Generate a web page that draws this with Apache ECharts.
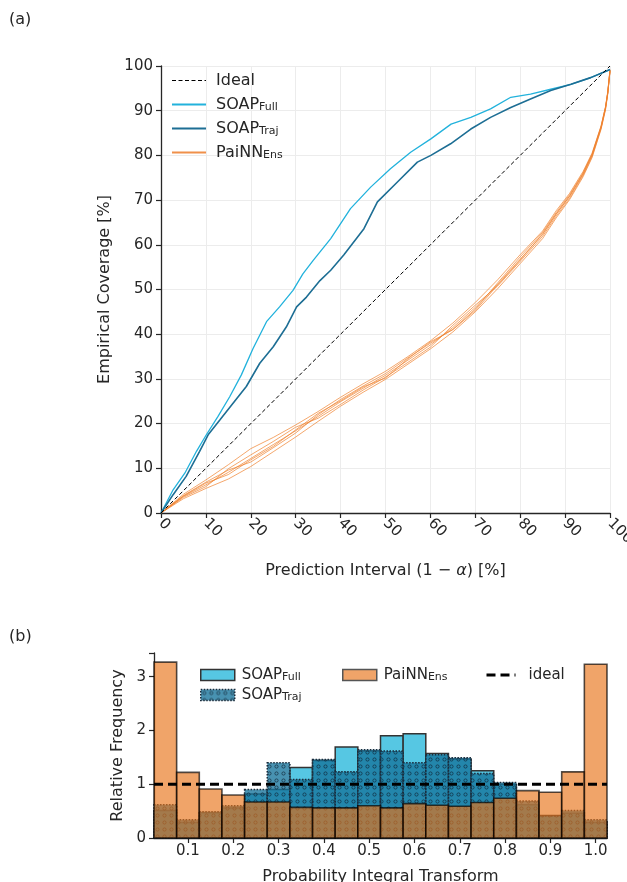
<!DOCTYPE html>
<html><head><meta charset="utf-8">
<script src="https://cdn.jsdelivr.net/npm/echarts@6/dist/echarts.min.js"></script>
<style>html,body{margin:0;padding:0;background:#fff}#c{width:627px;height:882px}</style>
</head><body><div id="c"></div>
<script>
// ---------- (a) calibration curves ----------
const FULL_X = [0,2.7,5.3,7.9,10.1,12.7,15.3,17.9,20.5,23.5,26.4,29.4,31.6,33.9,37.8,42.2,46.7,51.1,55.6,60.1,64.6,69.0,73.4,77.9,82.3,86.8,91.3,95.7,100];
const FULL_Y = [0,5.2,8.9,13.8,17.5,21.6,26.0,30.9,36.8,42.8,46.1,49.8,53.5,56.5,61.4,68.1,72.9,77.0,80.7,83.7,87.0,88.5,90.4,93.0,93.7,94.8,95.9,97.4,99.2];
const TRAJ_X = [0,2.7,5.6,8.6,10.5,13.1,16.0,19.0,22.0,25.0,27.9,30.2,32.4,35.4,37.8,40.7,45.2,48.2,52.6,57.1,60.1,64.5,69.0,73.4,77.9,82.3,86.8,91.3,95.7,100];
const TRAJ_Y = [0,4.1,8.2,13.8,17.5,20.8,24.5,28.3,33.5,37.2,41.6,46.1,48.3,52.0,54.3,57.7,63.6,69.6,74.0,78.5,80.0,82.6,85.9,88.5,90.7,92.6,94.5,95.9,97.4,99.2];
const PAINN_X = [0,5,10,15,20,25,30,35,40,45,50,55,60,65,70,75,80,85,88,91,94,96,98,99,99.5,100];
const PAINN_M1 = [0,3.7,6.3,9.1,12.2,15.3,18.4,21.6,24.9,27.9,30.8,34.2,37.6,41.5,46.0,51.2,56.8,62.3,66.8,70.8,75.8,80.0,86.2,90.6,94.0,99.0];
const PAINN_M2 = [0,4.2,7.4,10.8,14.4,16.9,19.7,22.7,25.9,28.9,31.7,35.0,38.5,42.5,47.1,52.2,57.8,63.1,67.6,71.5,76.4,80.5,86.6,90.9,94.3,99.2];
const PAINN_M3 = [0,3.2,5.5,7.6,10.4,13.7,17.0,20.5,23.9,27.0,29.9,33.3,36.7,40.5,45.0,50.2,55.8,61.4,66.0,70.1,75.2,79.5,85.8,90.2,93.7,98.8];
const PAINN_M4 = [0,3.9,6.9,9.6,11.4,14.6,17.9,22.0,25.4,28.4,31.2,34.7,38.0,41.1,45.6,51.5,57.3,62.8,67.2,71.2,76.1,80.3,86.4,90.8,94.1,99.1];
const PAINN_M5 = [0,3.5,5.9,9.9,13.0,16.0,19.2,21.2,24.3,27.5,30.4,33.7,37.1,42.0,46.5,50.8,56.3,61.9,66.4,70.4,75.5,79.7,86.0,90.4,93.9,98.9];
const PAINN_M6 = [0,3.8,6.7,8.6,11.9,14.9,18.6,22.3,25.1,28.2,30.2,34.5,38.3,41.0,45.3,51.0,56.6,62.5,66.9,70.9,75.9,80.1,86.3,90.7,94.0,99.0];
const IDEAL_X = [0,100];
const IDEAL_Y = [0,100];

// ---------- (b) PIT histogram ----------
const PIT_CENTERS = [0.05,0.10,0.15,0.20,0.25,0.30,0.35,0.40,0.45,0.50,0.55,0.60,0.65,0.70,0.75,0.80,0.85,0.90,0.95,1.00];
const BIN_W = 0.05;
const PIT_FULL  = [0.51,0.29,0.47,0.56,0.82,0.90,1.31,1.44,1.69,1.62,1.90,1.94,1.57,1.47,1.25,1.00,0.62,0.42,0.46,0.29];
const PIT_TRAJ  = [0.62,0.34,0.49,0.60,0.90,1.40,1.09,1.46,1.23,1.64,1.62,1.40,1.55,1.49,1.20,1.03,0.69,0.41,0.51,0.34];
const PIT_PAINN = [3.27,1.22,0.91,0.80,0.67,0.67,0.57,0.56,0.56,0.60,0.56,0.64,0.61,0.59,0.66,0.74,0.88,0.85,1.23,3.23];
const PIT_IDEAL = 1;
const PIT_TICKS = [0.1,0.2,0.3,0.4,0.5,0.6,0.7,0.8,0.9,1.0];

const FONT = 'DejaVu Sans';
const INK = '#262626';
const zip = (xs, ys) => xs.map((x, i) => [x, ys[i]]);

// hatch pattern ('o') for SOAP_Traj
function makeHatch() {
  const cv = document.createElement('canvas');
  cv.width = 7; cv.height = 7;
  const g = cv.getContext('2d');
  g.fillStyle = 'rgba(20,115,155,0.78)';
  g.fillRect(0, 0, 7, 7);
  g.strokeStyle = 'rgba(15,35,50,0.8)';
  g.lineWidth = 0.8;
  g.beginPath(); g.arc(3.5, 3.5, 1.6, 0, Math.PI * 2); g.stroke();
  return cv;
}
const HATCH = makeHatch();
const hatchFill = { image: HATCH, repeat: 'repeat' };

const LABELS = {
  'SOAP_Full': '{m|SOAP}{s|Full}', 'SOAP_Traj': '{m|SOAP}{s|Traj}', 'PaiNN_Ens': '{m|PaiNN}{s|Ens}', 'Ideal': '{m|Ideal}{s| }',
  'h_full': '{m|SOAP}{s|Full}', 'h_traj': '{m|SOAP}{s|Traj}', 'h_painn': '{m|PaiNN}{s|Ens}', 'h_ideal': '{m|ideal}{s| }'
};
function richFor(size, padL, lh, sub) {
  return {
    m: { fontSize: size, fontFamily: FONT, color: INK, padding: [0, 0, 0, padL], lineHeight: lh },
    s: { fontSize: Math.round(size * 0.7), fontFamily: FONT, color: INK, padding: [sub, 0, 0, 0], lineHeight: lh }
  };
}

function barSeries(name, values, style, z) {
  return {
    type: 'custom', name, xAxisIndex: 1, yAxisIndex: 1, z,
    data: PIT_CENTERS.map((c, i) => [c, values[i]]),
    encode: { x: 0, y: 1 },
    renderItem(params, api) {
      const c = api.value(0), h = api.value(1);
      const p0 = api.coord([c - BIN_W / 2, h]);
      const p1 = api.coord([c + BIN_W / 2, 0]);
      return {
        type: 'rect',
        shape: { x: p0[0], y: p0[1], width: p1[0] - p0[0], height: p1[1] - p0[1] },
        style: style
      };
    }
  };
}

const painnSeries = [PAINN_M1, PAINN_M2, PAINN_M3, PAINN_M4, PAINN_M5, PAINN_M6].map((ys) => ({
  type: 'line', name: 'PaiNN_Ens', xAxisIndex: 0, yAxisIndex: 0, data: zip(PAINN_X, ys),
  symbol: 'none', smooth: false, z: 3,
  lineStyle: { color: '#f0822e', width: 1, opacity: 0.7 }, itemStyle: { color: '#f0822e' }
}));

const axisCommon = {
  axisLine: { show: true, onZero: false, lineStyle: { color: INK, width: 1.3 } },
  axisTick: { show: true, length: 5, lineStyle: { color: INK, width: 1.2 } },
  axisLabel: { color: INK, fontSize: 15, fontFamily: FONT },
  nameTextStyle: { color: INK, fontSize: 16, fontFamily: FONT }
};
const hide = { opacity: 0 };

const option = {
  animation: false,
  backgroundColor: '#fff',
  title: [
    { text: '(a)', left: 4, top: 7, textStyle: { fontSize: 16, fontWeight: 'normal', fontFamily: FONT, color: INK } },
    { text: '(b)', left: 4, top: 624, textStyle: { fontSize: 16, fontWeight: 'normal', fontFamily: FONT, color: INK } }
  ],
  grid: [
    { left: 161, top: 66, width: 449, height: 447, outerBoundsMode: 'none', containLabel: false },
    { left: 154, top: 653, width: 453, height: 185, outerBoundsMode: 'none', containLabel: false }
  ],
  legend: [
    {
      orient: 'vertical', left: 166, top: 67, itemWidth: 34, itemHeight: 14, itemGap: 7,
      data: [
        { name: 'Ideal', itemStyle: hide, lineStyle: { color: '#000', width: 1.2, type: [4, 2.5] } },
        { name: 'SOAP_Full', itemStyle: hide, lineStyle: { width: 1.8, opacity: 1 } },
        { name: 'SOAP_Traj', itemStyle: hide, lineStyle: { width: 1.8, opacity: 1 } },
        { name: 'PaiNN_Ens', itemStyle: hide, lineStyle: { width: 2, opacity: 1, color: '#f0904a' } }
      ],
      formatter: n => LABELS[n],
      textStyle: { rich: richFor(16, 5, 18, 6) }
    },
    {
      orient: 'vertical', left: 195, top: 662, itemWidth: 34, itemHeight: 11, itemGap: 4,
      data: [
        { name: 'h_full', icon: 'rect', itemStyle: { color: '#56c7e3', borderColor: '#333', borderWidth: 1.5 } },
        { name: 'h_traj', icon: 'rect', itemStyle: { color: hatchFill, borderColor: '#1b2b3b', borderWidth: 1.5, borderType: [1.5, 1.5] } }
      ],
      formatter: n => LABELS[n],
      textStyle: { rich: richFor(15, 2, 16, 5) }
    },
    {
      orient: 'vertical', left: 337, top: 662, itemWidth: 34, itemHeight: 11,
      data: [{ name: 'h_painn', icon: 'rect', itemStyle: { color: 'rgb(240,164,105)', borderColor: '#555', borderWidth: 1.5 } }],
      formatter: n => LABELS[n],
      textStyle: { rich: richFor(15, 2, 16, 5) }
    },
    {
      orient: 'vertical', left: 480, top: 662, itemWidth: 29, itemHeight: 11,
      data: [{ name: 'h_ideal', itemStyle: hide, lineStyle: { color: '#000', width: 3, type: [9, 5] } }],
      formatter: n => LABELS[n],
      textStyle: { rich: richFor(15, 8, 16, 5) }
    }
  ],
  xAxis: [
    Object.assign({}, axisCommon, {
      type: 'value', gridIndex: 0, min: 0, max: 100, interval: 10,
      axisLabel: Object.assign({}, axisCommon.axisLabel, { rotate: -45, margin: 8 }),
      splitLine: { show: true, lineStyle: { color: '#ececec', width: 1 } },
      name: 'Prediction Interval (1 \u2212 {i|\u03b1}) [%]', nameLocation: 'middle', nameGap: 50,
      nameTextStyle: { color: INK, fontSize: 16, fontFamily: FONT, rich: { i: { fontStyle: 'italic', fontSize: 16, fontFamily: FONT, color: INK } } }
    }),
    Object.assign({}, axisCommon, {
      type: 'value', gridIndex: 1, min: 0.025, max: 1.025,
      axisTick: Object.assign({}, axisCommon.axisTick, { customValues: PIT_TICKS }),
      axisLabel: Object.assign({}, axisCommon.axisLabel, { customValues: PIT_TICKS, formatter: v => v.toFixed(1), margin: 6 }),
      splitLine: { show: false },
      name: 'Probability Integral Transform', nameLocation: 'middle', nameGap: 31
    })
  ],
  yAxis: [
    Object.assign({}, axisCommon, {
      type: 'value', gridIndex: 0, min: 0, max: 100, interval: 10,
      splitLine: { show: true, lineStyle: { color: '#ececec', width: 1 } },
      name: 'Empirical Coverage [%]', nameLocation: 'middle', nameGap: 48
    }),
    Object.assign({}, axisCommon, {
      type: 'value', gridIndex: 1, min: 0, max: 3.44, interval: 1,
      axisLabel: Object.assign({}, axisCommon.axisLabel, { formatter: v => (Number.isInteger(v) ? String(v) : '') }),
      splitLine: { show: false },
      name: 'Relative Frequency', nameLocation: 'middle', nameGap: 25
    })
  ],
  series: [
    { type: 'line', name: 'Ideal', xAxisIndex: 0, yAxisIndex: 0, data: zip(IDEAL_X, IDEAL_Y), symbol: 'none', z: 5,
      lineStyle: { color: '#000', width: 1, type: [4, 2.5] }, itemStyle: { color: '#000' } },
    ...painnSeries,
    { type: 'line', name: 'SOAP_Full', xAxisIndex: 0, yAxisIndex: 0, data: zip(FULL_X, FULL_Y), symbol: 'none', z: 4,
      lineStyle: { color: '#22b2dc', width: 1.3 }, itemStyle: { color: '#22b2dc' } },
    { type: 'line', name: 'SOAP_Traj', xAxisIndex: 0, yAxisIndex: 0, data: zip(TRAJ_X, TRAJ_Y), symbol: 'none', z: 4,
      lineStyle: { color: '#1d6e94', width: 1.6 }, itemStyle: { color: '#1d6e94' } },

    barSeries('h_full', PIT_FULL, { fill: '#56c7e3', stroke: '#333', lineWidth: 1.5 }, 2),
    barSeries('h_traj', PIT_TRAJ, { fill: hatchFill, stroke: '#1b2b3b', lineWidth: 1.5, lineDash: [1.5, 1.5] }, 3),
    barSeries('h_painn', PIT_PAINN, { fill: 'rgba(232,115,24,0.65)', stroke: 'rgba(0,0,0,0.68)', lineWidth: 1.6 }, 4),
    { type: 'line', name: 'h_ideal', xAxisIndex: 1, yAxisIndex: 1, z: 6,
      data: [[0.025, PIT_IDEAL], [1.025, PIT_IDEAL]], symbol: 'none',
      lineStyle: { color: '#000', width: 3, type: [9, 5] }, itemStyle: { color: '#000' } }
  ]
};

const chart = echarts.init(document.getElementById('c'));
chart.setOption(option);
</script>
</body></html>
